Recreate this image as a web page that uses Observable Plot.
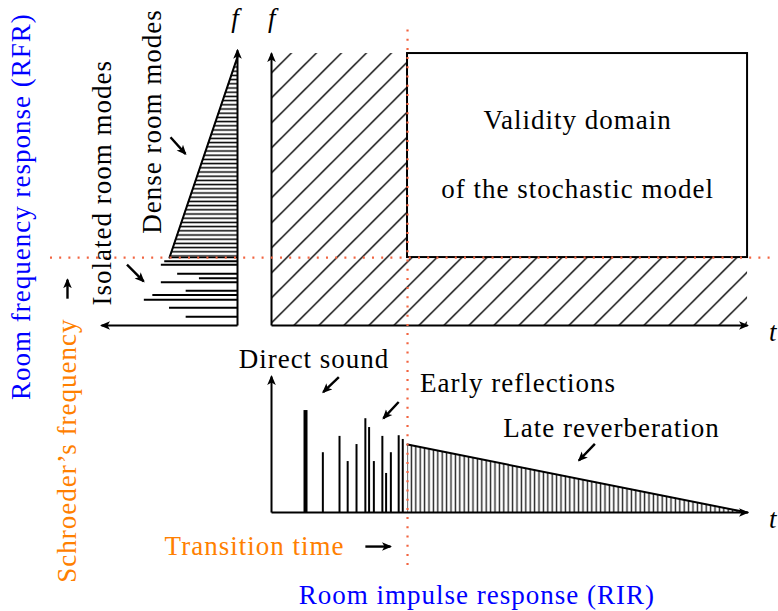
<!DOCTYPE html>
<html><head><meta charset="utf-8">
<script src="https://cdn.jsdelivr.net/npm/d3@7"></script>
<script src="https://cdn.jsdelivr.net/npm/@observablehq/plot@0.6"></script>
<style>html,body{margin:0;padding:0;background:#fff;} svg{display:block}</style>
</head><body><div id="chart"></div>
<script>
// ---------- data, in diagram units (origin = corner of the time / frequency axes) ----------
const transitionTime = 4;      // transition time on the time axis
const schroederFreq = 2;       // Schroeder's frequency on the f axis
const timeMax = 14;
const freqMax = 8;
const rfrAxisX = -1;           // the RFR frequency axis
const rfrAmpMax = 4;
const rfrFreqMax = 8.1;
const rirBase = -5.5;          // the RIR baseline
const rirAmpMax = 4;

// isolated room modes (frequency, amplitude)
const isolatedFreq = [1.89, 1.79, 1.52, 1.39, 1.27, 1.02, 0.90, 0.76, 0.52, 0.26];
const isolatedAmp  = [2.14, 2.24, 1.76, 1.12, 2.24, 1.51, 2.49, 2.74, 2.00, 1.51];
// dense room modes envelope
const denseFreq = [2, 7.9];
const denseAmp  = [2, 0];

// room impulse response
const directTime = [1.0];
const directAmp  = [3.0];
const reflTime = [1.51, 2.0, 2.24, 2.5, 2.76, 2.87, 3.01, 3.26, 3.37, 3.51, 3.74, 3.86];
const reflAmp  = [1.76, 2.24, 1.5, 2.0, 2.76, 2.5, 1.5, 2.24, 1.15, 1.76, 2.26, 2.15];
const lateTime = [4, 14];
const lateAmp  = [2.0, 0];

// labels
const blackText = ["Validity domain", "of the stochastic model", "Direct sound", "Early reflections", "Late reverberation"];
const blackX = [9, 9, 1.25, 7.25, 10.0];
const blackY = [5.79, 3.76, -1.26, -1.94, -3.29];
const blackRotText = ["Dense room modes", "Isolated room modes"];
const blackRotX = [-3.24, -4.71];
const blackRotY = [6.0, 4.2];
const axisText = ["f", "f"];
const axisX = [-1.06, 0.02];
const axisY = [8.79, 8.79];
const tText = ["t", "t"];
const tX = [14.88, 14.88];
const tY = [-0.2, -5.7];
const blueText = ["Room impulse response (RIR)"];
const blueX = [6.04]; const blueY = [-8.18];
const blueRotText = ["Room frequency response (RFR)"];
const blueRotX = [-7.09]; const blueRotY = [3.5];
const orangeText = ["Transition time"];
const orangeX = [-0.5]; const orangeY = [-6.76];
const orangeRotText = ["Schroeder\u2019s frequency"];
const orangeRotX = [-5.76]; const orangeRotY = [-3.68];

// pointer arrows (from -> to)
const ptrX1 = [-2.97, -4.25, 1.98, 3.74, 9.51, 2.76, -6.0];
const ptrY1 = [5.54, 1.79, -1.52, -2.25, -3.48, -6.5, 0.79];
const ptrX2 = [-2.53, -3.76, 1.52, 3.29, 9.04, 3.5, -6.0];
const ptrY2 = [5.05, 1.30, -1.96, -2.73, -3.97, -6.5, 1.35];

// ---------- tables built from the arrays ----------
const zip = (a, b, ka, kb) => a.map((v, i) => ({[ka]: v, [kb]: b[i]}));
const isolated = zip(isolatedFreq, isolatedAmp, "f", "a");
const dense = zip(denseFreq, denseAmp, "f", "a");
const direct = zip(directTime, directAmp, "t", "a");
const refl = zip(reflTime, reflAmp, "t", "a");
const late = zip(lateTime, lateAmp, "t", "a");
const lbl = (T, X, Y) => T.map((text, i) => ({text, x: X[i], y: Y[i]}));
const axesArrows = [
  {x1: 0, y1: 0, x2: timeMax, y2: 0},
  {x1: 0, y1: 0, x2: 0, y2: freqMax},
  {x1: rfrAxisX, y1: 0, x2: rfrAxisX, y2: rfrFreqMax},
  {x1: rfrAxisX, y1: 0, x2: rfrAxisX - rfrAmpMax, y2: 0},
  {x1: 0, y1: rirBase, x2: 0, y2: rirBase + rirAmpMax},
  {x1: 0, y1: rirBase, x2: timeMax, y2: rirBase}
];
const pointers = ptrX1.map((x1, i) => ({x1, y1: ptrY1[i], x2: ptrX2[i], y2: ptrY2[i]}));

const RED = "#f26440";
const FONT = "Liberation Serif";
const FS = 27;
const common = {fontFamily: FONT, fontSize: FS, lineAnchor: "bottom", textAnchor: "middle"};

const chart = Plot.plot({
  width: 778, height: 611, margin: 0,
  x: {domain: [-7.97, 14.91], axis: null},
  y: {domain: [-8.41, 9.56], axis: null},
  style: {background: "white", letterSpacing: "1px"},
  marks: [
    // hatched time-frequency plane
    Plot.rect([{}], {x1: 0, x2: timeMax, y1: 0, y2: freqMax, fill: "url(#hatchNE)"}),
    // validity domain of the stochastic model
    Plot.rect([{}], {x1: transitionTime, x2: timeMax, y1: schroederFreq, y2: freqMax, fill: "white", stroke: "black", strokeWidth: 2}),
    // late reverberation
    Plot.areaY(late, {x: "t", y1: rirBase, y2: d => rirBase + d.a, fill: "url(#hatchV)"}),
    Plot.line(late, {x: "t", y: d => rirBase + d.a, stroke: "black", strokeWidth: 2}),
    // dense modes
    Plot.areaX(dense, {y: "f", x1: rfrAxisX, x2: d => rfrAxisX - d.a, fill: "url(#hatchH)"}),
    Plot.line(dense, {x: d => rfrAxisX - d.a, y: "f", stroke: "black", strokeWidth: 2}),
    Plot.ruleY([schroederFreq], {x1: rfrAxisX - denseAmp[0], x2: rfrAxisX, stroke: "black", strokeWidth: 1.6}),
    // isolated modes
    Plot.ruleY(isolated, {y: "f", x1: rfrAxisX, x2: d => rfrAxisX - d.a, stroke: "black", strokeWidth: 2}),
    // early reflections & direct sound
    Plot.ruleX(refl, {x: "t", y1: rirBase, y2: d => rirBase + d.a, stroke: "black", strokeWidth: 2}),
    Plot.ruleX(direct, {x: "t", y1: rirBase, y2: d => rirBase + d.a, stroke: "black", strokeWidth: 4}),
    // axes
    Plot.link(axesArrows, {x1: "x1", y1: "y1", x2: "x2", y2: "y2", stroke: "black", strokeWidth: 2, ariaDescription: "arrowed"}),
    // Schroeder / transition dotted lines
    Plot.ruleX([transitionTime], {y1: -7.06, y2: 8.82, stroke: RED, strokeWidth: 2.2, strokeDasharray: "2 7.2"}),
    Plot.ruleY([schroederFreq], {x1: -6.5, x2: 14.75, stroke: RED, strokeWidth: 2.2, strokeDasharray: "2 7.2"}),
    // labels
    Plot.text(lbl(blackText, blackX, blackY), {x: "x", y: "y", text: "text", ...common, fill: "black"}),
    Plot.text(lbl(blackRotText, blackRotX, blackRotY), {x: "x", y: "y", text: "text", ...common, rotate: -90, fill: "black"}),
    Plot.text(lbl(axisText, axisX, axisY), {x: "x", y: "y", text: "text", ...common, fontStyle: "italic", fill: "black"}),
    Plot.text(lbl(tText, tX, tY), {x: "x", y: "y", text: "text", ...common, textAnchor: "end", lineAnchor: "middle", fontStyle: "italic", fill: "black"}),
    Plot.text(lbl(blueText, blueX, blueY), {x: "x", y: "y", text: "text", ...common, fill: "#0000ff"}),
    Plot.text(lbl(blueRotText, blueRotX, blueRotY), {x: "x", y: "y", text: "text", ...common, rotate: -90, fill: "#0000ff"}),
    Plot.text(lbl(orangeText, orangeX, orangeY), {x: "x", y: "y", text: "text", ...common, fill: "#ff8000"}),
    Plot.text(lbl(orangeRotText, orangeRotX, orangeRotY), {x: "x", y: "y", text: "text", ...common, rotate: -90, fill: "#ff8000"}),
    // pointer arrows
    Plot.link(pointers, {x1: "x1", y1: "y1", x2: "x2", y2: "y2", stroke: "black", strokeWidth: 2.4, ariaDescription: "arrowed"})
  ]
});

// patterns and arrow heads
const svg = d3.select(chart);
const defs = svg.insert("defs", ":first-child");
const ne = defs.append("pattern").attr("id", "hatchNE").attr("patternUnits", "userSpaceOnUse")
  .attr("x", 19.4).attr("y", 0).attr("width", 25).attr("height", 25);
ne.append("path").attr("d", "M0,25 L25,0 M-3,3 L3,-3 M22,28 L28,22").attr("stroke", "black").attr("stroke-width", 1.4);
const hh = defs.append("pattern").attr("id", "hatchH").attr("patternUnits", "userSpaceOnUse")
  .attr("x", 0).attr("y", 1.9).attr("width", 20).attr("height", 4.2);
hh.append("path").attr("d", "M-1,2.1 L21,2.1").attr("stroke", "black").attr("stroke-width", 1.5);
const vv = defs.append("pattern").attr("id", "hatchV").attr("patternUnits", "userSpaceOnUse")
  .attr("x", 404.8).attr("y", 0).attr("width", 4.4).attr("height", 20);
vv.append("path").attr("d", "M2.2,-1 L2.2,21").attr("stroke", "#222").attr("stroke-width", 1.4);
defs.append("marker").attr("id", "tip").attr("viewBox", "0 -5 10 10").attr("refX", 8.5).attr("refY", 0)
  .attr("markerWidth", 10).attr("markerHeight", 10).attr("markerUnits", "userSpaceOnUse").attr("orient", "auto")
  .append("path").attr("d", "M0,-4.3 L10,0 L0,4.3 L2.5,0 Z").attr("fill", "black");
svg.selectAll('g[aria-description="arrowed"] path').attr("marker-end", "url(#tip)");

document.getElementById("chart").appendChild(chart);
</script>
</body></html>
